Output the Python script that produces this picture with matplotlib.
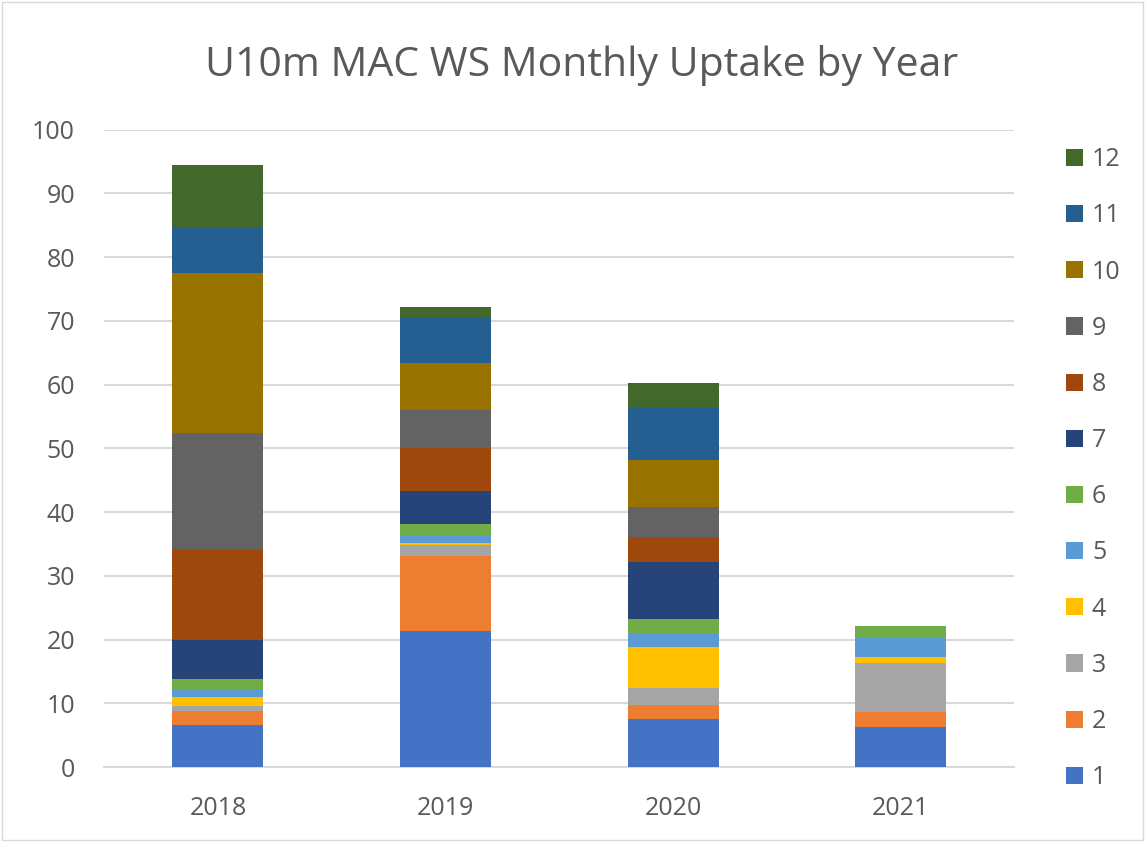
import matplotlib.pyplot as plt
from matplotlib.patches import Patch, Rectangle
import numpy as np

# Données (valeurs par mois, empilées)
annees = ['2018', '2019', '2020', '2021']
mois = ['1', '2', '3', '4', '5', '6', '7', '8', '9', '10', '11', '12']
m1 = [6.6, 21.3, 7.6, 6.3]
m2 = [2.2, 11.8, 2.2, 2.3]
m3 = [0.8, 1.7, 2.6, 7.7]
m4 = [1.4, 0.3, 6.5, 1.0]
m5 = [1.1, 1.3, 1.9, 3.1]
m6 = [1.7, 1.7, 2.5, 1.7]
m7 = [6.2, 5.2, 8.9, 0]
m8 = [14.2, 6.8, 3.9, 0]
m9 = [18.2, 5.9, 4.7, 0]
m10 = [25.1, 7.4, 7.4, 0]
m11 = [7.3, 7.2, 8.3, 0]
m12 = [9.7, 1.6, 3.8, 0]
series = [m1, m2, m3, m4, m5, m6, m7, m8, m9, m10, m11, m12]

couleurs = ['#4472C4', '#ED7D31', '#A5A5A5', '#FFC000', '#5B9BD5', '#70AD47',
            '#264478', '#9E480E', '#636363', '#997300', '#255E91', '#43682B']

gris_texte = '#595959'
plt.rcParams['font.family'] = ['Open Sans', 'DejaVu Sans']

fig = plt.figure(figsize=(11.45, 8.42), dpi=100)
ax = fig.add_axes([0.091, 0.089, 0.795, 0.757])

x = np.arange(len(annees))
bas = np.zeros(len(annees))
handles = []
for valeurs, couleur, nom in zip(series, couleurs, mois):
    ax.bar(x, valeurs, width=0.4, bottom=bas, color=couleur, zorder=3)
    bas += np.array(valeurs)
    handles.append(Patch(facecolor=couleur, label=nom))

ax.set_xlim(-0.5, 3.5)
ax.set_ylim(0, 100)
ax.set_yticks(range(0, 101, 10))
ax.set_xticks(x)
ax.set_xticklabels(annees)
ax.yaxis.grid(True, color='#D9D9D9', linewidth=1.5, zorder=0)
ax.tick_params(axis='both', length=0, labelsize=18, labelcolor=gris_texte)
ax.tick_params(axis='y', pad=21)
ax.tick_params(axis='x', pad=20.5)
for cote in ['top', 'right', 'left']:
    ax.spines[cote].set_visible(False)
ax.spines['bottom'].set_color('#D9D9D9')
ax.spines['bottom'].set_linewidth(1.5)

fig.suptitle('U10m MAC WS Monthly Uptake by Year', x=0.508, y=0.946,
             fontsize=29.5, color=gris_texte)

leg = fig.legend(handles=handles[::-1], loc='upper left',
                 bbox_to_anchor=(0.931, 0.825), frameon=False, fontsize=18,
                 labelspacing=1.246, handlelength=0.68, handleheight=0.68,
                 handletextpad=0.36, borderpad=0, borderaxespad=0)
for t in leg.get_texts():
    t.set_color(gris_texte)

# Bordure du graphique
fig.patches.append(Rectangle((0.002, 0.002), 0.996, 0.996, transform=fig.transFigure,
                             fill=False, edgecolor='#D9D9D9', linewidth=1))

plt.savefig('out.png', dpi=100)
